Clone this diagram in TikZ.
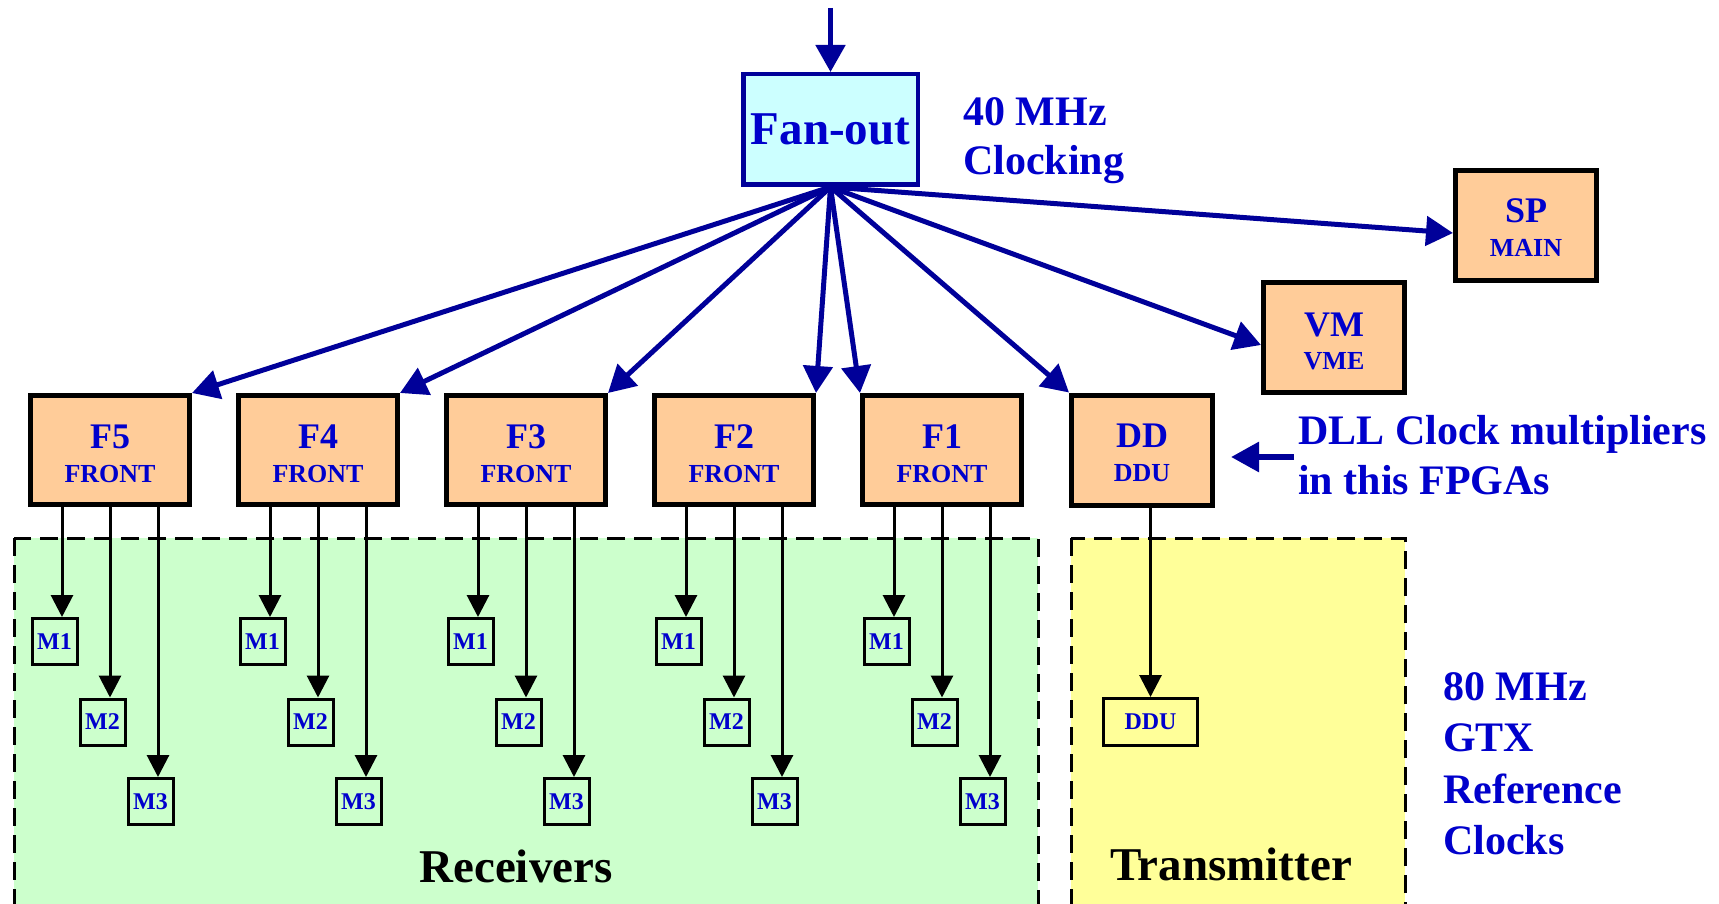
\documentclass[tikz,border=0pt]{standalone}
\usepackage{fontspec}
\setmainfont{Liberation Serif}
\usetikzlibrary{arrows.meta,calc}
\definecolor{txtblue}{RGB}{0,0,204}
\definecolor{navy}{RGB}{0,0,153}
\definecolor{fancyan}{RGB}{204,255,255}
\definecolor{boxorange}{RGB}{255,204,153}
\definecolor{recgreen}{RGB}{204,255,204}
\definecolor{trnyellow}{RGB}{255,255,153}
\newcommand\fsz[1]{\fontsize{#1}{#1}\selectfont\bfseries}
\begin{document}
\begin{tikzpicture}[x=1pt,y=-1pt,
  fanbox/.style={draw=navy,line width=4.5pt,fill=fancyan,minimum width=174.5pt,minimum height=110.5pt,inner sep=0pt,outer sep=2.25pt,text=txtblue,font=\fsz{47}},
  fpga/.style={draw=black,line width=5pt,fill=boxorange,minimum width=159pt,minimum height=109pt,inner sep=0pt,outer sep=2.5pt},
  fpgasmall/.style={fpga,minimum width=141pt,minimum height=110pt},
  mbox/.style={draw=black,line width=3pt,fill=recgreen,minimum width=45pt,minimum height=46pt,inner sep=0pt,outer sep=1.5pt,text=txtblue,font=\fsz{24}},
  ddubox/.style={mbox,fill=trnyellow,minimum width=94pt,minimum height=47pt},
  title/.style={anchor=base,inner sep=0pt,text=txtblue,font=\fsz{36}},
  subtitle/.style={anchor=base,inner sep=0pt,text=txtblue,font=\fsz{26}},
  note/.style={anchor=base west,inner sep=0pt,text=txtblue,font=\fsz{42}},
  region/.style={draw=black,line width=3pt,dash pattern=on 18pt off 9pt},
  regionlabel/.style={anchor=base,inner sep=0pt,text=black,font=\fsz{47}},
  barrow/.style={draw=navy,line width=5pt,-{Triangle[length=27pt,width=29pt]},navy},
  karrow/.style={draw=black,line width=3pt,-{Triangle[length=22pt,width=22pt]}}
]
\useasboundingbox (0,0) rectangle (1719,904);
\clip (0,0) rectangle (1719,904);
\fill[white] (0,0) rectangle (1719,904);

% regions
\filldraw[region,fill=recgreen] (14,538) rectangle (1038,940);
\filldraw[region,fill=trnyellow] (1071,538) rectangle (1405,940);
\node[regionlabel] (rec) at (516,882) {Receivers};
\node[regionlabel] (trn) at (1231,880) {Transmitter};

% fan-out
\node[fanbox] (fan) at (830.5,129.5) {Fan-out};
\coordinate (in) at (830.5,8);
\draw[barrow] (in) -- (fan.north);
\node[note] (c1) at (963,126) {40 MHz};
\node[note] (c2) at (963,175) {Clocking};

% front FPGAs and their M boxes
\foreach \n/\x in {5/110,4/318,3/526,2/734,1/942}{
  \node[fpga] (f\n) at (\x,450) {};
  \node[title] (f\n-t) at ($(f\n.north)+(0,55)$) {F\n};
  \node[subtitle] (f\n-s) at ($(f\n.north)+(0,89)$) {FRONT};
  \node[mbox] (f\n-m1) at (\x-55.5,641.5) {M1};
  \node[mbox] (f\n-m2) at (\x-7.5,722) {M2};
  \node[mbox] (f\n-m3) at (\x+40.5,801.5) {M3};
  \coordinate (f\n-a1) at ($(f\n.south)+(-48,0)$);
  \coordinate (f\n-a2) at (f\n.south);
  \coordinate (f\n-a3) at ($(f\n.south)+(48,0)$);
  \draw[karrow] (f\n-a1) -- (f\n-a1 |- f\n-m1.north);
  \draw[karrow] (f\n-a2) -- (f\n-a2 |- f\n-m2.north);
  \draw[karrow] (f\n-a3) -- (f\n-a3 |- f\n-m3.north);
}

% DDU
\node[fpgasmall] (dd) at (1142,450) {};
\node[title] (dd-t) at ($(dd.north)+(0,55)$) {DD};
\node[subtitle] (dd-s) at ($(dd.north)+(0,89)$) {DDU};
\node[ddubox] (ddu) at (1150.5,722) {DDU};
\coordinate (dda) at ($(dd.south)+(8.5,0)$);
\draw[karrow] (dda) -- (dda |- ddu.north);

% VM and SP
\node[fpgasmall] (vm) at (1334,337.5) {};
\node[title] (vm-t) at ($(vm.north)+(0,56)$) {VM};
\node[subtitle] (vm-s) at ($(vm.north)+(0,89)$) {VME};
\node[fpgasmall] (sp) at (1526,225.5) {};
\node[title] (sp-t) at ($(sp.north)+(0,55)$) {SP};
\node[subtitle] (sp-s) at ($(sp.north)+(0,89)$) {MAIN};

% fan-out arrows
\coordinate (vmin) at ($(vm.west)+(0,7.5)$);
\coordinate (spin) at ($(sp.west)+(0,7.5)$);
\foreach \t in {f5.north east,f4.north east,f3.north east,f2.north east,f1.north west,dd.north west,vmin,spin}{
  \draw[barrow] (fan.south) -- (\t);
}

% DLL note
\coordinate (dllfrom) at (1294,457);
\coordinate (dllto) at (1231,457);
\draw[barrow,line width=6pt,-{Triangle[length=28pt,width=29pt]}] (dllfrom) -- (dllto);
\node[note] (d1) at (1298,444) {DLL Clock multipliers};
\node[note] (d2) at (1298,494) {in this FPGAs};

% 80 MHz note
\node[note] (g1) at (1443,700) {80 MHz};
\node[note] (g2) at (1443,751) {GTX};
\node[note] (g3) at (1443,803) {Reference};
\node[note] (g4) at (1443,854) {Clocks};
\end{tikzpicture}
\end{document}
